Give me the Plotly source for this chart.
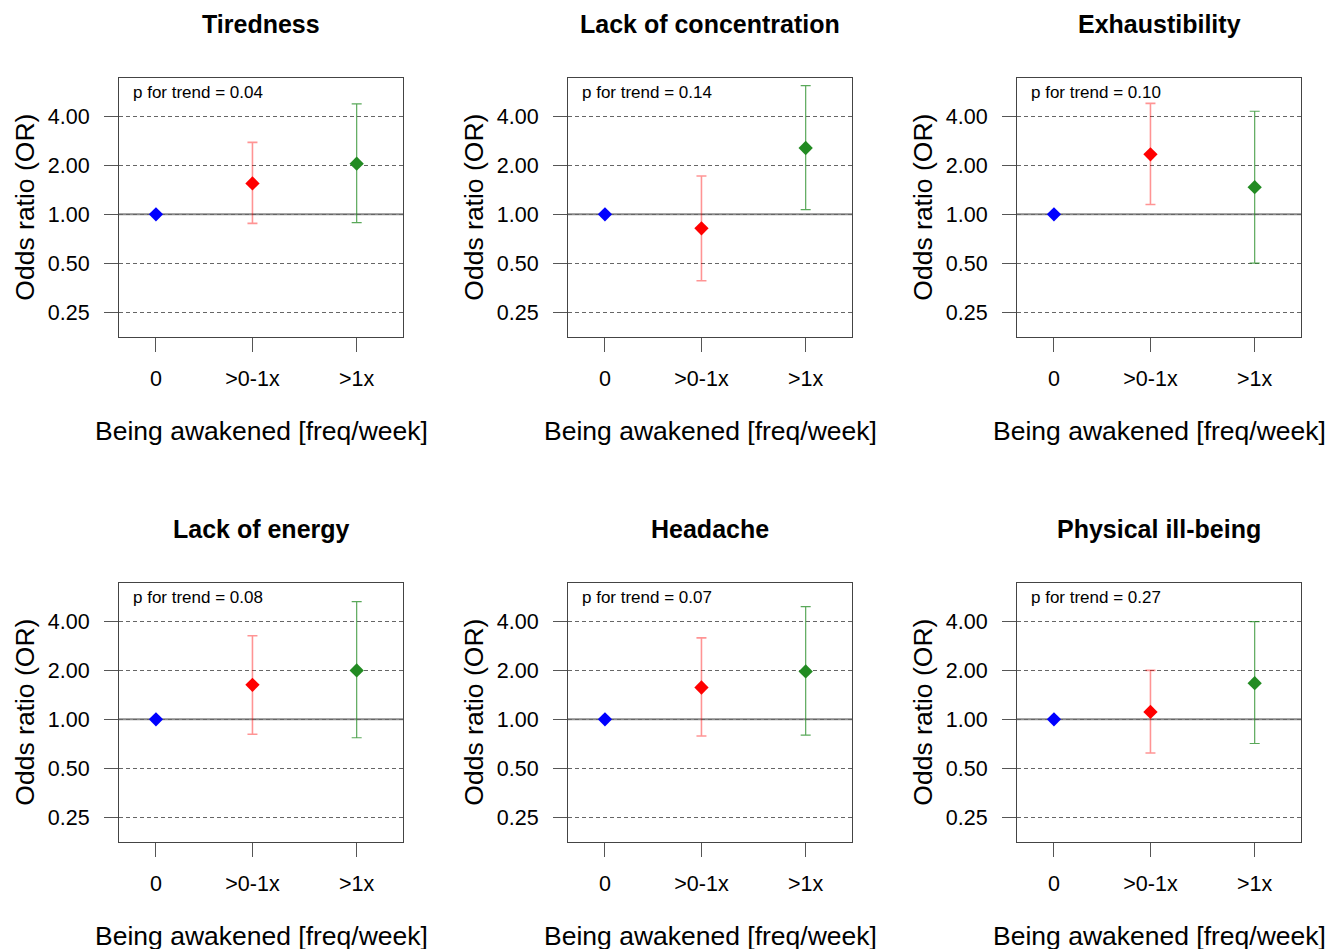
import plotly.graph_objects as go

# ---------------- data ----------------
panel_titles = ["Tiredness", "Lack of concentration", "Exhaustibility",
                "Lack of energy", "Headache", "Physical ill-being"]
p_trend = ["0.04", "0.14", "0.10", "0.08", "0.07", "0.27"]
categories = ["0", ">0-1x", ">1x"]
cat_pos = [0, 1, 2.08]

# odds ratios (reference category = 1)
or_ref = [1.0, 1.0, 1.0, 1.0, 1.0, 1.0]
or_mid = [1.55, 0.82, 2.34, 1.63, 1.57, 1.11]
lo_mid = [0.88, 0.39, 1.15, 0.81, 0.79, 0.62]
hi_mid = [2.77, 1.72, 4.82, 3.27, 3.17, 2.00]
or_high = [2.05, 2.56, 1.47, 2.00, 1.97, 1.67]
lo_high = [0.89, 1.07, 0.50, 0.77, 0.80, 0.71]
hi_high = [4.78, 6.20, 4.31, 5.30, 4.94, 3.99]

y_tickvals = [0.25, 0.5, 1, 2, 4]
y_ticktext = ["0.25", "0.50", "1.00", "2.00", "4.00"]

# ---------------- layout geometry (pixels) ----------------
W, H = 1330, 949
col_x = [(119, 403), (568, 852), (1017, 1301)]
row_y = [(78, 337.3), (583, 842.3)]
row_off = [0, 505]
x_range = [-0.383, 2.56]
y_range = [-0.757, 0.839]

FONT = "Liberation Sans, Arial, sans-serif"
col_ref = "#0000FF"
col_mid = "#FF0000"
col_mid_ci = "rgba(255,0,0,0.42)"
col_high = "#228B22"
col_high_ci = "rgba(34,139,34,0.75)"

def px_x(v):
    return v / W

def px_y(v):
    return 1 - v / H

fig = go.Figure()
annotations = []
shapes = []

for i in range(6):
    r, c = divmod(i, 3)
    xa = "x" if i == 0 else f"x{i+1}"
    ya = "y" if i == 0 else f"y{i+1}"
    xl = "xaxis" if i == 0 else f"xaxis{i+1}"
    yl = "yaxis" if i == 0 else f"yaxis{i+1}"
    x0, x1 = col_x[c]
    y0, y1 = row_y[r]

    fig.update_layout(**{
        xl: dict(domain=[px_x(x0), px_x(x1)], anchor=ya, range=x_range,
                 tickvals=cat_pos, ticktext=categories, ticks="outside",
                 ticklen=14, tickwidth=1, tickcolor="#555",
                 showline=True, linecolor="#444", linewidth=1, mirror=True,
                 showgrid=False, zeroline=False, ticklabelstandoff=8,
                 tickfont=dict(family=FONT, size=21.5, color="#000")),
        yl: dict(domain=[px_y(y1), px_y(y0)], anchor=xa, type="log",
                 range=y_range, tickvals=y_tickvals, ticktext=y_ticktext,
                 ticks="outside", ticklen=14, tickwidth=1, tickcolor="#555",
                 showline=True, linecolor="#444", linewidth=1, mirror=True,
                 showgrid=True, gridcolor="#666", griddash="4px,3px",
                 gridwidth=1, zeroline=False, ticklabelstandoff=10,
                 tickfont=dict(family=FONT, size=21.5, color="#000")),
    })

    # solid reference line at OR = 1
    shapes.append(dict(type="line", xref=f"{xa} domain", yref=ya,
                       x0=0, x1=1, y0=1, y1=1, layer="below",
                       line=dict(color="#8a8a8a", width=2)))

    fig.add_trace(go.Scatter(
        x=[cat_pos[0]], y=[or_ref[i]], xaxis=xa, yaxis=ya, mode="markers",
        marker=dict(symbol="diamond", size=11, color=col_ref),
        showlegend=False))
    fig.add_trace(go.Scatter(
        x=[cat_pos[1]], y=[or_mid[i]], xaxis=xa, yaxis=ya, mode="markers",
        marker=dict(symbol="diamond", size=11, color=col_mid),
        error_y=dict(type="data", symmetric=False,
                     array=[hi_mid[i] - or_mid[i]],
                     arrayminus=[or_mid[i] - lo_mid[i]],
                     color=col_mid_ci, thickness=1.6, width=5),
        showlegend=False))
    fig.add_trace(go.Scatter(
        x=[cat_pos[2]], y=[or_high[i]], xaxis=xa, yaxis=ya, mode="markers",
        marker=dict(symbol="diamond", size=11, color=col_high),
        error_y=dict(type="data", symmetric=False,
                     array=[hi_high[i] - or_high[i]],
                     arrayminus=[or_high[i] - lo_high[i]],
                     color=col_high_ci, thickness=1.2, width=5),
        showlegend=False))

    cx = (x0 + x1) / 2
    off = row_off[r]
    # panel title
    annotations.append(dict(text=f"<b>{panel_titles[i]}</b>", xref="paper",
                            yref="paper", x=px_x(cx), y=px_y(24 + off),
                            xanchor="center", yanchor="middle", showarrow=False,
                            font=dict(family=FONT, size=25, color="#000")))
    # p for trend
    annotations.append(dict(text=f"p for trend = {p_trend[i]}", xref="paper",
                            yref="paper", x=px_x(x0 + 12), y=px_y(92 + off),
                            xanchor="left", yanchor="middle", showarrow=False,
                            font=dict(family=FONT, size=17, color="#000")))
    # x axis title
    annotations.append(dict(text="Being awakened [freq/week]", xref="paper",
                            yref="paper", x=px_x(cx), y=px_y(431 + off),
                            xanchor="center", yanchor="middle", showarrow=False,
                            font=dict(family=FONT, size=26.5, color="#000")))
    # y axis title
    annotations.append(dict(text="Odds ratio (OR)", xref="paper", yref="paper",
                            x=px_x(x0 - 94), y=px_y((y0 + y1) / 2),
                            xanchor="center", yanchor="middle", showarrow=False,
                            textangle=-90,
                            font=dict(family=FONT, size=26.5, color="#000")))

fig.update_layout(width=W, height=H, margin=dict(l=0, r=0, t=0, b=0),
                  paper_bgcolor="white", plot_bgcolor="white",
                  annotations=annotations, shapes=shapes,
                  font=dict(family=FONT, color="#000"))

fig.write_html("out.html")
